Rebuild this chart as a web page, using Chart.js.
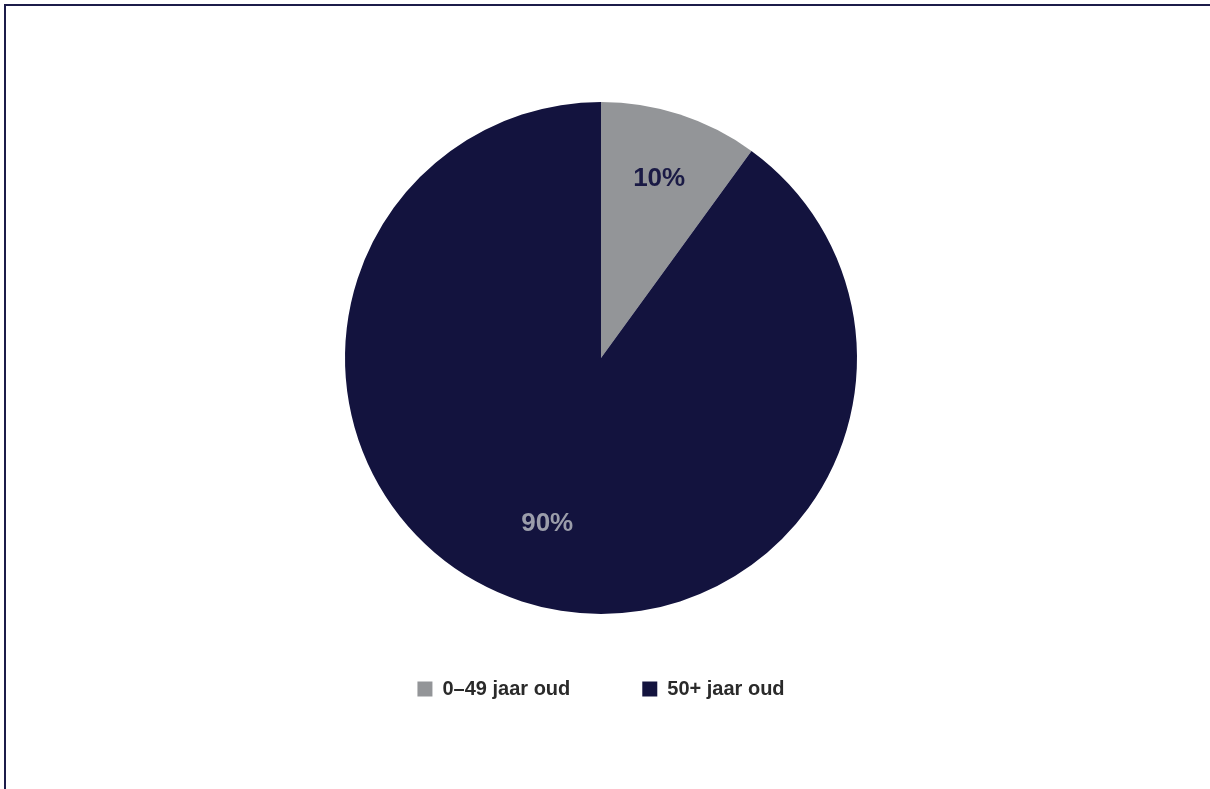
<!DOCTYPE html>
<html>
<head>
<meta charset="utf-8">
<script src="https://cdn.jsdelivr.net/npm/chart.js@4/dist/chart.umd.min.js"></script>
<style>
  html, body { margin: 0; padding: 0; background: #ffffff; }
  #wrap { position: absolute; left: 0; top: 0; width: 1210px; height: 789px; overflow: hidden; }
  #frame { position: absolute; left: 4px; top: 4px; width: 1220px; height: 800px;
           border-top: 2px solid #1c1c4a; border-left: 2px solid #1c1c4a; box-sizing: border-box; }
  canvas { position: absolute; left: 0; top: 0; }
</style>
</head>
<body>
<div id="wrap">
  <div id="frame"></div>
  <canvas id="c" width="1210" height="789"></canvas>
</div>
<script>
const categories = ["0\u201349 jaar oud", "50+ jaar oud"];
const shares = [10, 90];
const valueLabels = ["10%", "90%"];
const sliceColors = ["#939598", "#13133e"];
const labelColors = ["#1a1a45", "#9b9daa"];

const sliceLabelPlugin = {
  id: "sliceLabels",
  afterDatasetsDraw(chart, args, opts) {
    const ctx = chart.ctx;
    const meta = chart.getDatasetMeta(0);
    ctx.save();
    ctx.font = "bold 26px 'Liberation Sans', Arial, sans-serif";
    ctx.textAlign = "center";
    ctx.textBaseline = "middle";
    meta.data.forEach((arc, i) => {
      const p = arc.getProps(["x", "y", "startAngle", "endAngle", "outerRadius"], true);
      const mid = (p.startAngle + p.endAngle) / 2;
      const r = p.outerRadius * opts.fractions[i];
      ctx.fillStyle = labelColors[i];
      ctx.fillText(valueLabels[i], p.x + Math.cos(mid) * r, p.y + Math.sin(mid) * r);
    });
    ctx.restore();
  }
};

new Chart(document.getElementById("c"), {
  type: "pie",
  data: {
    labels: categories,
    datasets: [{
      data: shares,
      backgroundColor: sliceColors,
      borderWidth: 0,
      radius: 256,
      clip: false
    }]
  },
  options: {
    responsive: false,
    animation: false,
    layout: { padding: { top: 109, bottom: 80, left: 0, right: 8 } },
    plugins: {
      tooltip: { enabled: false },
      sliceLabels: { fractions: [0.735, 0.68] },
      legend: {
        position: "bottom",
        labels: {
          boxWidth: 15,
          boxHeight: 15,
          padding: 72,
          color: "#2a2a2a",
          font: { family: "'Liberation Sans', Arial, sans-serif", size: 20, weight: "bold" }
        }
      }
    }
  },
  plugins: [sliceLabelPlugin]
});
</script>
</body>
</html>
